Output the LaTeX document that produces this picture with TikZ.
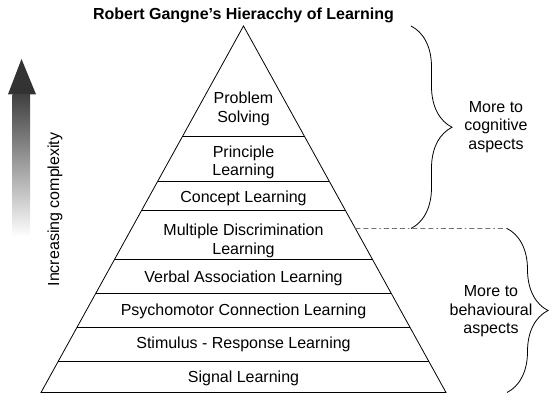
\documentclass[tikz,border=0pt]{standalone}
\usepackage{fontspec}
\setmainfont{Liberation Sans}
\usetikzlibrary{calc,decorations.pathreplacing}
\begin{document}
\begin{tikzpicture}[x=1pt,y=-1pt,
  txt/.style={font=\fontsize{16}{18.5}\selectfont, align=center, inner sep=0pt},
  edge/.style={draw=black, line width=0.8pt, line join=miter},
  brc/.style={decorate, decoration={brace, amplitude=41pt}, draw=black, line width=0.8pt},
  sep/.style={draw=black!55, line width=0.8pt, dash pattern=on 5pt off 3pt on 5pt off 3pt on 5pt off 3pt on 1.5pt off 3pt}]
\useasboundingbox (0,0) rectangle (555,403);
% pyramid
\coordinate (apex) at (243.5,26);
\coordinate (bl) at (41,392.5);
\coordinate (br) at (446,392.5);
\draw[edge] (apex) -- (bl) -- (br) -- cycle;
\foreach \t in {0.3001,0.4243,0.502,0.6357,0.7285,0.8213,0.914}
  \draw[edge] ($(apex)!\t!(bl)$) -- ($(apex)!\t!(br)$);
% layer labels
\node[txt] (ps) at (243.5,109) {Problem\\Solving};
\node[txt] (pl) at (243.5,162.5) {Principle\\Learning};
\node[txt] (cl) at (243.5,198.5) {Concept Learning};
\node[txt] (md) at (243.5,241) {Multiple Discrimination\\Learning};
\node[txt] (va) at (243.5,278.5) {Verbal Association Learning};
\node[txt] (pc) at (243.5,311.5) {Psychomotor Connection Learning};
\node[txt] (sr) at (243.5,344.5) {Stimulus - Response Learning};
\node[txt] (sl) at (243.5,378.5) {Signal Learning};
% title
\node[txt, font=\fontsize{16}{18.5}\selectfont\bfseries] (title) at (243.5,15.5) {Robert Gangne's Hieracchy of Learning};
% braces
\coordinate (b1t) at (411,26);
\coordinate (b1b) at (411,228.5);
\coordinate (b2t) at (507,228.5);
\coordinate (b2b) at (507,392.5);
\draw[brc] (b1t) -- (b1b);
\draw[brc] (b2t) -- (b2b);
\coordinate (sepL) at ($(apex)!0.5525!(br)$);
\draw[sep] (sepL) -- (b2t);
\node[txt] (cog) at (496,127) {More to\\cognitive\\aspects};
\node[txt] (beh) at (491,311.5) {More to\\behavioural\\aspects};
% complexity arrow
\fill[black!80] (21.5,59) -- (36,94.3) -- (8,94.3) -- cycle;
\shade[top color=black!75, bottom color=white] (12.7,94.2) rectangle (30,237);
\node[txt, rotate=90] (inc) at (55,209.5) {Increasing complexity};
\end{tikzpicture}
\end{document}
